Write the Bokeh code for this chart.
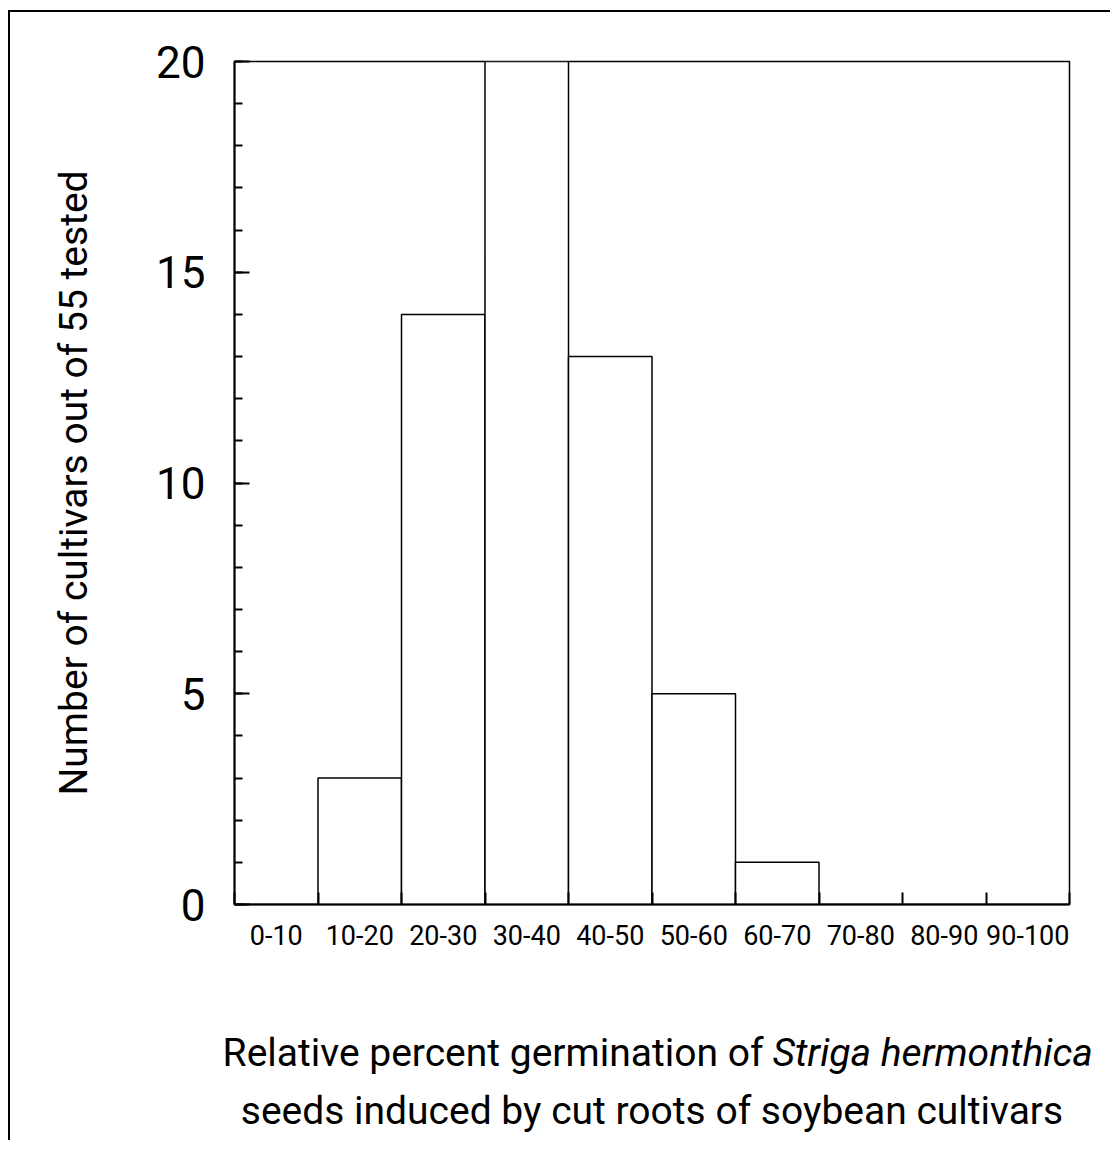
from bokeh.plotting import figure
from bokeh.layouts import column
from bokeh.models import FixedTicker, Label, Range1d
from bokeh.embed import file_html
from bokeh.resources import INLINE

# ---- data ----
bin_lo = [0, 10, 20, 30, 40, 50, 60, 70, 80, 90]
bin_hi = [10, 20, 30, 40, 50, 60, 70, 80, 90, 100]
bin_labels = ["0-10", "10-20", "20-30", "30-40", "40-50", "50-60",
              "60-70", "70-80", "80-90", "90-100"]
counts = [0, 3, 14, 20, 13, 5, 1, 0, 0, 0]
y_major = [0, 5, 10, 15, 20]
y_minor = list(range(0, 21))
title_line1 = "Relative percent germination of"
title_species = "Striga hermonthica"
title_line2 = "seeds induced by cut roots of soybean cultivars"
y_title = "Number of cultivars out of 55 tested"

FONT = "Roboto"

# ---- layout constants (pixels) ----
W = 1100
FRAME_L, FRAME_R, FRAME_T = 224, 41, 49
P_H = 962
T_H = 166

p = figure(width=W, height=P_H,
           x_range=Range1d(0, 100), y_range=Range1d(0, 20),
           output_backend="svg", toolbar_location=None,
           min_border_left=FRAME_L, min_border_top=FRAME_T,
           min_border_right=FRAME_R, min_border_bottom=70)
p.frame_align = False
p.grid.visible = False
p.background_fill_color = "white"
p.border_fill_color = "white"
p.outline_line_color = "black"
p.outline_line_width = 1.5

p.quad(left=bin_lo, right=bin_hi, bottom=0, top=counts,
       fill_color="white", line_color="black", line_width=1.5)

# x axis: labels at bin centres, small inward ticks at bin edges
centers = [(a + b) // 2 for a, b in zip(bin_lo, bin_hi)]
xa = p.xaxis[0]
xa.ticker = FixedTicker(ticks=centers, minor_ticks=bin_lo + [bin_hi[-1]])
xa.major_label_overrides = {c: lab for c, lab in zip(centers, bin_labels)}
xa.major_tick_in = 0
xa.major_tick_out = 0
xa.minor_tick_in = 12
xa.minor_tick_out = 0
xa.minor_tick_line_width = 2
xa.axis_line_width = 2
xa.major_label_standoff = 20
xa.major_label_text_font = FONT
xa.major_label_text_font_size = "27px"
xa.major_label_text_color = "black"

# y axis
ya = p.yaxis[0]
ya.ticker = FixedTicker(ticks=y_major, minor_ticks=y_minor)
ya.major_tick_in = 15
ya.major_tick_out = 0
ya.minor_tick_in = 8
ya.minor_tick_out = 0
ya.major_tick_line_width = 2
ya.minor_tick_line_width = 2
ya.axis_line_width = 2
ya.major_label_standoff = 29
ya.major_label_text_font = FONT
ya.major_label_text_font_size = "44px"
ya.major_label_text_color = "black"
ya.axis_label = y_title
ya.axis_label_text_font = FONT
ya.axis_label_text_font_size = "39px"
ya.axis_label_text_font_style = "normal"
ya.axis_label_text_color = "black"
ya.axis_label_standoff = 56

# ---- x title as a separate strip under the plot, same x scale ----
px_per_unit = (W - FRAME_L - FRAME_R) / 100.0
t = figure(width=W, height=T_H,
           x_range=Range1d(-FRAME_L / px_per_unit, (W - FRAME_L) / px_per_unit),
           y_range=Range1d(0, T_H),
           output_backend="svg", toolbar_location=None,
           x_axis_location=None, y_axis_location=None,
           min_border_left=0, min_border_right=0,
           min_border_top=0, min_border_bottom=0)
t.frame_align = False
t.grid.visible = False
t.outline_line_color = None
t.background_fill_color = "white"
t.border_fill_color = "white"

t.add_layout(Label(x=63.35, y=T_H - 78, text=title_line1,
                   text_align="right", text_baseline="alphabetic",
                   text_font=FONT, text_font_size="39px", text_color="black"))
t.add_layout(Label(x=63.35, y=T_H - 78, x_offset=9, text=title_species,
                   text_align="left", text_baseline="alphabetic",
                   text_font=FONT, text_font_style="italic",
                   text_font_size="39px", text_color="black"))
t.add_layout(Label(x=50.0, y=T_H - 136, text=title_line2,
                   text_align="center", text_baseline="alphabetic",
                   text_font=FONT, text_font_size="39px", text_color="black"))

page = column(p, t, spacing=0)
page.styles = {"border-top": "2px solid black", "border-left": "2px solid black",
               "background-color": "white",
               "margin-top": "10px", "margin-left": "8px"}

open("out.html", "w").write(file_html(page, INLINE))
